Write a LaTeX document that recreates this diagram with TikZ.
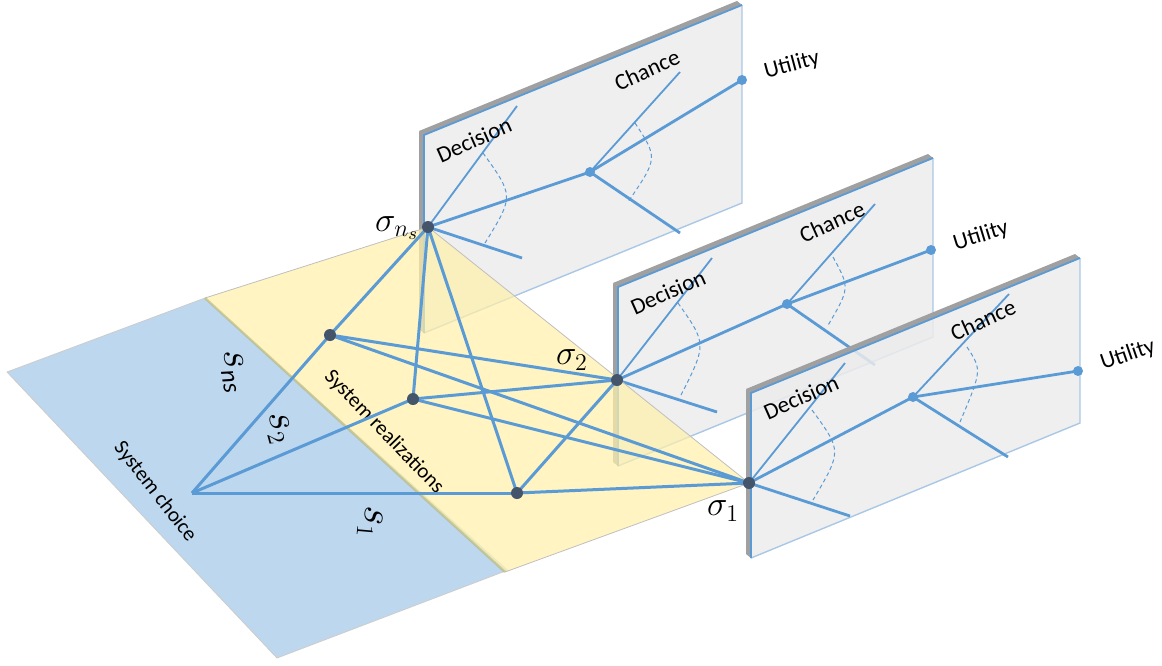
\documentclass[tikz,border=0pt]{standalone}
\usepackage{fontspec}
\setmainfont{Carlito}
\DeclareMathSizes{19}{19}{12}{9}
\DeclareMathSizes{20}{20}{12.5}{9}
\definecolor{lineblue}{RGB}{91,155,213}
\definecolor{nodedark}{RGB}{68,84,106}
\definecolor{planeblue}{RGB}{189,215,238}
\definecolor{planeyellow}{RGB}{255,240,170}
\definecolor{panelface}{RGB}{236,236,236}
\definecolor{panelgrey}{RGB}{160,160,160}
\definecolor{panellight}{RGB}{170,200,230}
\tikzset{
  gedge/.style={draw=lineblue, line width=1.5pt},
  thickbr/.style={draw=lineblue, line width=1.4pt},
  thinbr/.style={draw=lineblue, line width=0.9pt},
  arcst/.style={draw=lineblue, line width=0.5pt, dash pattern=on 2pt off 1.5pt},
  dotnode/.style={circle, fill=nodedark, inner sep=0pt, minimum size=6pt},
  cdot/.style={circle, fill=lineblue, inner sep=0pt, minimum size=5pt},
  plbl/.style={font=\fontsize{11.5}{13}\selectfont, inner sep=0pt},
  flbl/.style={font=\fontsize{10.5}{12}\selectfont, inner sep=0pt},
  siglbl/.style={font=\fontsize{19}{22}\selectfont, inner sep=0pt},
  slbl/.style={font=\fontsize{20}{23}\selectfont, inner sep=0pt},
  edgeblue/.style={draw=lineblue, line width=0.9pt},
  edgelight/.style={draw=panellight, line width=0.7pt},
}
\begin{document}
\begin{tikzpicture}[x=0.5pt,y=-0.5pt]
\useasboundingbox (0,0) rectangle (1162,665);

% ---------- named positions ----------
\coordinate (sns) at (428,227);
\coordinate (s2) at (617,380);
\coordinate (s1) at (749,483);
\coordinate (A) at (330,335);
\coordinate (B) at (413,399);
\coordinate (C) at (517,493);
\coordinate (S) at (192,493);

% ---------- panel 1 ----------
\fill[panelgrey] (419,131) -- (424,135) -- (424,333) -- (419,329) -- cycle;
\fill[panelgrey] (419,131) -- (737,1) -- (742,5) -- (424,135) -- cycle;
\fill[panelface, opacity=0.85] (424,135) -- (742,5) -- (742,203) -- (424,333) -- cycle;
\draw[edgelight] (742,5) -- (742,203) -- (424,333);
\draw[edgeblue] (424,333) -- (424,135) -- (742,5);
\coordinate (p1d1) at (517,106);
\coordinate (p1c) at (590,172);
\coordinate (p1d3) at (522,258);
\coordinate (p1c1) at (680,72);
\coordinate (p1u) at (742,80);
\coordinate (p1c3) at (680,233);
\draw[thinbr] (sns) -- (p1d1);
\draw[thickbr] (sns) -- (p1c);
\draw[thickbr] (sns) -- (p1d3);
\draw[thinbr] (p1c) -- (p1c1);
\draw[thickbr] (p1c) -- (p1u);
\draw[thickbr] (p1c) -- (p1c3);
\draw[arcst] (483,153) .. controls (514,196) .. (485,243);
\draw[arcst] (635,123) .. controls (658,158) .. (628,202);
\node[cdot] (p1cn) at (p1c) {};
\node[cdot] (p1un) at (p1u) {};
\node[plbl, rotate=24] (p1dec) at (474,140) {Decision};
\node[plbl, rotate=24] (p1cha) at (647,70) {Chance};
\node[plbl, rotate=15] (p1uti) at (792,65) {Utility};

% ---------- panel 2 ----------
\fill[panelgrey] (613,283) -- (618,287) -- (618,466) -- (613,462) -- cycle;
\fill[panelgrey] (613,283) -- (928,154) -- (933,158) -- (618,287) -- cycle;
\fill[panelface, opacity=0.85] (618,287) -- (933,158) -- (933,337) -- (618,466) -- cycle;
\draw[edgelight] (933,158) -- (933,337) -- (618,466);
\draw[edgeblue] (618,466) -- (618,287) -- (933,158);
\coordinate (p2d1) at (712,258);
\coordinate (p2c) at (787,304);
\coordinate (p2d3) at (717,412);
\coordinate (p2c1) at (875,204);
\coordinate (p2u) at (931,250);
\coordinate (p2c3) at (875,365);
\draw[thinbr] (s2) -- (p2d1);
\draw[thickbr] (s2) -- (p2c);
\draw[thickbr] (s2) -- (p2d3);
\draw[thinbr] (p2c) -- (p2c1);
\draw[thickbr] (p2c) -- (p2u);
\draw[thickbr] (p2c) -- (p2c3);
\draw[arcst] (678,303) .. controls (707,344) .. (680,397);
\draw[arcst] (833,257) .. controls (850,288) .. (827,327);
\node[cdot] (p2cn) at (p2c) {};
\node[cdot] (p2un) at (p2u) {};
\node[plbl, rotate=24] (p2dec) at (668,292) {Decision};
\node[plbl, rotate=24] (p2cha) at (832,222) {Chance};
\node[plbl, rotate=17] (p2uti) at (981,236) {Utility};

% ---------- panel 3 ----------
\fill[panelgrey] (746,389) -- (751,393) -- (751,558) -- (746,554) -- cycle;
\fill[panelgrey] (746,389) -- (1075,254) -- (1080,258) -- (751,393) -- cycle;
\fill[panelface, opacity=0.85] (751,393) -- (1080,258) -- (1080,423) -- (751,558) -- cycle;
\draw[edgelight] (1080,258) -- (1080,423) -- (751,558);
\draw[edgeblue] (751,558) -- (751,393) -- (1080,258);
\coordinate (p3d1) at (845,363);
\coordinate (p3c) at (913,397);
\coordinate (p3d3) at (850,516);
\coordinate (p3c1) at (1009,294);
\coordinate (p3u) at (1078,371);
\coordinate (p3c3) at (1008,457);
\draw[thinbr] (s1) -- (p3d1);
\draw[thickbr] (s1) -- (p3c);
\draw[thickbr] (s1) -- (p3d3);
\draw[thinbr] (p3c) -- (p3c1);
\draw[thickbr] (p3c) -- (p3u);
\draw[thickbr] (p3c) -- (p3c3);
\draw[arcst] (812,410) .. controls (842,451) .. (813,500);
\draw[arcst] (967,347) .. controls (982,370) .. (960,422);
\node[cdot] (p3cn) at (p3c) {};
\node[cdot] (p3un) at (p3u) {};
\node[plbl, rotate=24] (p3dec) at (801,397) {Decision};
\node[plbl, rotate=24] (p3cha) at (983,320) {Chance};
\node[plbl, rotate=19] (p3uti) at (1128,355) {Utility};

% ---------- planes ----------
\fill[planeblue] (7,372) -- (205,298) -- (508,570) -- (277,658) -- cycle;
\draw[draw=black!20, line width=0.4pt] (7,372) -- (205,298);
\draw[draw=black!20, line width=0.4pt] (508,570) -- (277,658) -- (7,372);
\fill[planeyellow, opacity=0.72] (205,298) -- (428,227) -- (749,483) -- (505,572) -- cycle;
\draw[draw=black!25, line width=0.4pt] (205,298) -- (428,227) -- (749,483) -- (505,572);
\draw[draw=black!25!yellow!60!gray, opacity=0.5, line width=1.2pt] (205,298) -- (505,572);

\node[flbl, rotate=-52] (choice) at (155,492) {System choice};
\node[flbl, rotate=-46] (realiz) at (384,432) {System realizations};

% ---------- graph ----------
\draw[gedge] (S) -- (A);
\draw[gedge] (S) -- (B);
\draw[gedge] (S) -- (C);
\draw[gedge] (sns) -- (A);
\draw[gedge] (sns) -- (B);
\draw[gedge] (sns) -- (C);
\draw[gedge] (A) -- (s2);
\draw[gedge] (A) -- (s1);
\draw[gedge] (B) -- (s2);
\draw[gedge] (B) -- (s1);
\draw[gedge] (C) -- (s2);
\draw[gedge] (C) -- (s1);

\node[dotnode] (snsn) at (sns) {};
\node[dotnode] (s2n) at (s2) {};
\node[dotnode] (s1n) at (s1) {};
\node[dotnode] (An) at (A) {};
\node[dotnode] (Bn) at (B) {};
\node[dotnode] (Cn) at (C) {};

\node[siglbl] (lsns) at (397,228) {$\sigma_{n_s}$};
\node[siglbl] (ls2) at (572,360) {$\sigma_2$};
\node[siglbl] (ls1) at (723,511) {$\sigma_1$};

\node[slbl, rotate=-80] (lsn) at (233,372) {$s_{\mathit{ns}}$};
\node[slbl, rotate=-75] (ls2b) at (278,428) {$s_2$};
\node[slbl, rotate=-95] (ls1b) at (370,522) {$s_1$};
\end{tikzpicture}
\end{document}
